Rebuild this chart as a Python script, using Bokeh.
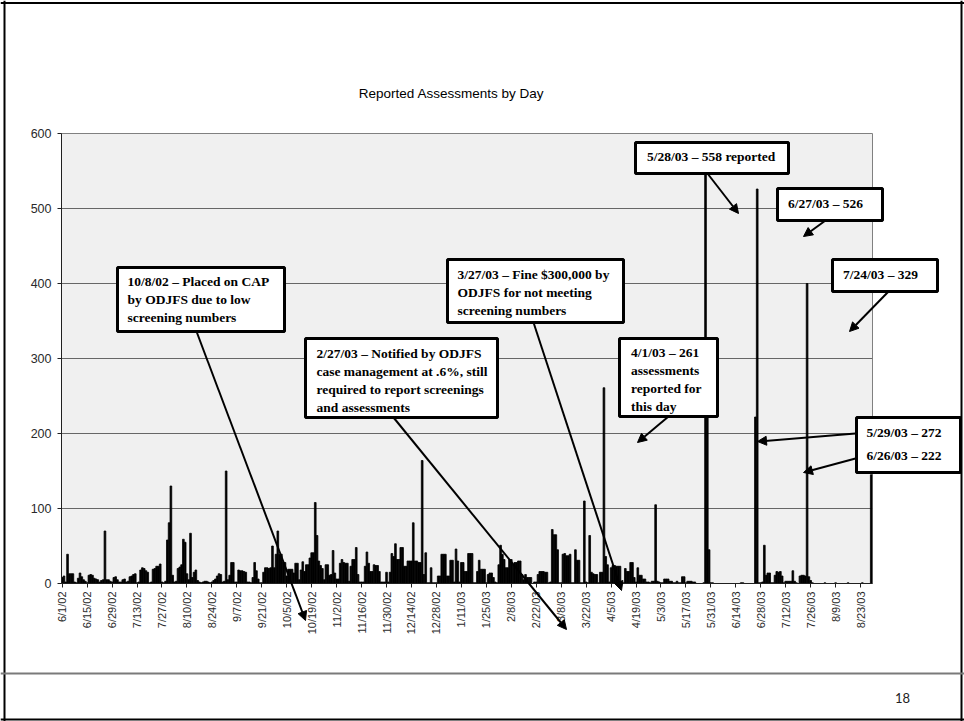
import math
from bokeh.plotting import figure
from bokeh.models import Range1d, FixedTicker, BoxAnnotation, Label, Arrow, NormalHead, Span
from bokeh.embed import file_html
from bokeh.resources import INLINE

# ---------------- data: reported assessments per day, starting 6/1/02 ----------------
jun_aug_02 = [8, 10, 2, 39, 13, 13, 13, 2, 1, 7,
              14, 9, 5, 3, 1, 11, 12, 11, 7, 6,
              5, 2, 4, 5, 70, 5, 5, 3, 2, 8,
              9, 5, 2, 2, 5, 6, 2, 3, 9, 10,
              12, 13, 1, 2, 18, 21, 20, 17, 15, 1,
              2, 19, 20, 23, 23, 26, 2, 1, 3, 58,
              81, 130, 11, 2, 3, 20, 22, 25, 59, 55,
              13, 5, 67, 8, 15, 18, 4, 2, 1, 2,
              3, 3, 2, 1, 2, 4, 6, 10, 13, 12]
aug_dec_02 = [2, 3, 150, 5, 11, 28, 28, 2, 2, 18,
              17, 17, 16, 15, 2, 2, 1, 8, 28, 17,
              6, 1, 1, 15, 21, 21, 20, 21, 50, 21,
              39, 70, 39, 39, 28, 28, 10, 19, 19, 19,
              14, 27, 27, 5, 18, 29, 16, 25, 25, 34,
              41, 41, 108, 64, 30, 24, 20, 5, 25, 25,
              11, 12, 44, 14, 6, 6, 27, 32, 28, 27,
              27, 3, 23, 32, 32, 48, 12, 2, 2, 2,
              23, 42, 27, 16, 16, 25, 24, 24, 16, 2,
              2, 2, 15]
dec_02_mar_03 = [2, 15, 40, 36, 53, 32, 32, 48, 48, 23,
                 23, 30, 30, 30, 81, 30, 30, 28, 28, 164,
                 12, 41, 1, 1, 21, 1, 1, 1, 10, 10,
                 39, 39, 39, 10, 10, 31, 31, 2, 46, 30,
                 2, 28, 28, 16, 16, 40, 40, 40, 1, 1,
                 16, 31, 19, 19, 19, 1, 12, 14, 14, 8,
                 2, 1, 25, 51, 39, 32, 21, 21, 32, 32,
                 25, 28, 28, 30, 30, 12, 5, 12, 8, 8,
                 8, 0, 2, 2, 12, 16, 16, 16, 15, 15,
                 1, 2, 72]
mar_jun_03 = [65, 65, 45, 1, 1, 39, 40, 37, 37, 39,
              1, 1, 45, 31, 31, 1, 1, 110, 2, 1,
              64, 15, 13, 12, 12, 1, 15, 15, 261, 36,
              25, 2, 21, 24, 24, 23, 23, 23, 1, 1,
              20, 16, 16, 28, 28, 8, 2, 21, 11, 11,
              6, 6, 2, 2, 1, 3, 3, 105, 3, 2,
              1, 1, 6, 6, 6, 3, 3, 1, 1, 3,
              1, 1, 9, 9, 1, 3, 3, 3, 2, 2,
              0, 0, 0, 0, 1, 558, 272, 45, 1, 1,
              0, 0, 0]
jun_aug_03 = [0, 0, 0, 0, 0, 0, 0, 0, 0, 0,
              0, 0, 1, 1, 0, 0, 0, 0, 0, 0,
              222, 526, 1, 1, 2, 51, 11, 14, 14, 1,
              1, 11, 16, 15, 16, 10, 1, 3, 3, 3,
              3, 17, 3, 1, 0, 10, 11, 11, 10, 400,
              9, 4, 1, 0, 0, 0, 0, 0, 0, 1,
              0, 0, 0, 0, 0, 1, 0, 0, 0, 0,
              0, 0, 1, 0, 0, 0, 0, 0, 0, 0,
              1, 0, 0, 0, 0, 145]
counts = jun_aug_02 + aug_dec_02 + dec_02_mar_03 + mar_jun_03 + jun_aug_03
days = list(range(len(counts)))

tick_days = list(range(0, 449, 14))
tick_labels = ["6/1/02", "6/15/02", "6/29/02", "7/13/02", "7/27/02", "8/10/02", "8/24/02",
               "9/7/02", "9/21/02", "10/5/02", "10/19/02", "11/2/02", "11/16/02", "11/30/02",
               "12/14/02", "12/28/02", "1/11/03", "1/25/03", "2/8/03", "2/22/03", "3/8/03",
               "3/22/03", "4/5/03", "4/19/03", "5/3/03", "5/17/03", "5/31/03", "6/14/03",
               "6/28/03", "7/12/03", "7/26/03", "8/9/03", "8/23/03"]
y_ticks = [0, 100, 200, 300, 400, 500, 600]

title_text = "Reported Assessments by Day"
notes = [
    "10/8/02 \u2013 Placed on CAP\nby ODJFS due to low\nscreening numbers",
    "2/27/03 \u2013 Notified by ODJFS\ncase management at .6%, still\nrequired to report screenings\nand assessments",
    "3/27/03 \u2013 Fine $300,000 by\nODJFS for not meeting\nscreening numbers",
    "4/1/03 \u2013 261\nassessments\nreported for\nthis day",
    "5/28/03 \u2013 558 reported",
    "6/27/03 \u2013 526",
    "7/24/03 \u2013 329",
    "5/29/03 \u2013 272",
    "6/26/03 \u2013 222",
]
page_number = "18"

# ---------------- chart figure ----------------
W, H = 964, 721
FL, FR, FT, FB = 61, 92, 133, 138
X0, X1 = -0.39, 454.7

chart = figure(width=W, height=H, x_range=Range1d(X0, X1), y_range=Range1d(0, 600),
               output_backend="svg", toolbar_location=None,
               min_border_left=FL, min_border_right=FR, min_border_top=FT, min_border_bottom=FB)
chart.background_fill_color = "#f0f0f0"
chart.border_fill_color = "white"
chart.outline_line_color = "#808080"
chart.outline_line_width = 1
chart.xgrid.visible = False
chart.ygrid.grid_line_color = "#666666"
chart.ygrid.grid_line_width = 1

chart.xaxis.ticker = FixedTicker(ticks=tick_days)
chart.xaxis.major_label_overrides = dict(zip(tick_days, tick_labels))
chart.xaxis.major_label_orientation = math.pi / 2
chart.yaxis.ticker = FixedTicker(ticks=y_ticks)
for ax in (chart.xaxis, chart.yaxis):
    ax.axis_line_color = "#202020"
    ax.axis_line_width = 1
    ax.major_tick_line_color = "#202020"
    ax.major_tick_out = 4
    ax.major_tick_in = 0
    ax.minor_tick_line_color = None
    ax.major_label_text_font = "Liberation Sans"
    ax.major_label_text_color = "#2a2a2a"
chart.xaxis.major_label_text_font_size = "11px"
chart.xaxis.major_label_standoff = 4
chart.yaxis.major_label_text_font_size = "12.5px"
chart.yaxis.major_label_standoff = 6

chart.vbar(x=days, top=counts, width=0.95, bottom=0,
           fill_color="black", line_color="black", line_width=0.8)

# ---------------- overlay figure (page-pixel coordinates) for the slide decorations ----------------
ov = figure(width=W, height=H, x_range=Range1d(0, W), y_range=Range1d(H, 0),
            output_backend="svg", toolbar_location=None,
            x_axis_location=None, y_axis_location=None,
            min_border=0, min_border_left=0, min_border_right=0,
            min_border_top=0, min_border_bottom=0)
ov.grid.visible = False
ov.background_fill_alpha = 0
ov.border_fill_alpha = 0
ov.outline_line_color = None
ov.styles = {"position": "absolute", "left": "0px", "top": "0px"}

# slide frame and footer rule
ov.add_layout(Span(location=2.5, dimension="width", line_color="black", line_width=2))
ov.add_layout(Span(location=719, dimension="width", line_color="black", line_width=2))
ov.add_layout(Span(location=4, dimension="height", line_color="black", line_width=2))
ov.add_layout(Span(location=961, dimension="height", line_color="black", line_width=2))
ov.add_layout(Span(location=673, dimension="width", line_color="#7a7a7a", line_width=2))

ov.add_layout(Label(x=451, y=93, text=title_text, text_align="center",
                    text_baseline="middle", text_font="Liberation Sans",
                    text_font_size="13.5px", text_color="black"))
ov.add_layout(Label(x=902, y=697, text=page_number, text_align="center",
                    text_baseline="middle", text_font="Lato",
                    text_font_size="13px", text_color="#222222"))

boxes = [  # left, right, top, bottom, text x, text top, note index
    (117, 284, 267, 331, 127, 273.6, 0),
    (305, 497, 338, 417, 316, 345.0, 1),
    (447, 623, 259, 322, 457, 266.3, 2),
    (619, 717, 338, 416, 630.5, 344.7, 3),
    (635, 788, 142, 173, 646.5, 148.0, 4),
    (777, 882, 188, 220, 787.5, 195.3, 5),
    (832, 937, 259, 291, 842.5, 266.0, 6),
    (856, 960, 417, 472, 866, 424.3, 7),
]
for l, r, t, b, tx, ty, i in boxes:
    ov.add_layout(BoxAnnotation(left=l, right=r, top=t, bottom=b,
                                fill_color="white", fill_alpha=1.0,
                                line_color="black", line_width=3, line_alpha=1.0))
    ov.add_layout(Label(x=tx, y=ty, text=notes[i], text_align="left",
                        text_baseline="top", text_font="Liberation Serif",
                        text_font_style="bold", text_font_size="13.5px", text_color="black"))
ov.add_layout(Label(x=866, y=447.7, text=notes[8], text_align="left",
                    text_baseline="top", text_font="Liberation Serif",
                    text_font_style="bold", text_font_size="13.5px", text_color="black"))

arrows = [
    (196, 331, 305, 620),
    (393, 417, 566, 629),
    (533, 322, 621, 590),
    (668, 416, 637, 442),
    (707, 173, 738, 213),
    (825, 220, 803, 236),
    (888, 291, 849, 331),
    (855, 433, 757, 441),
    (855, 458, 803, 472),
]
for x0, y0, x1, y1 in arrows:
    ov.add_layout(Arrow(end=NormalHead(size=9, fill_color="black", line_color="black", line_width=1),
                        x_start=x0, y_start=y0, x_end=x1, y_end=y1,
                        line_width=2, line_color="black"))

open("out.html", "w").write(file_html([chart, ov], INLINE))
